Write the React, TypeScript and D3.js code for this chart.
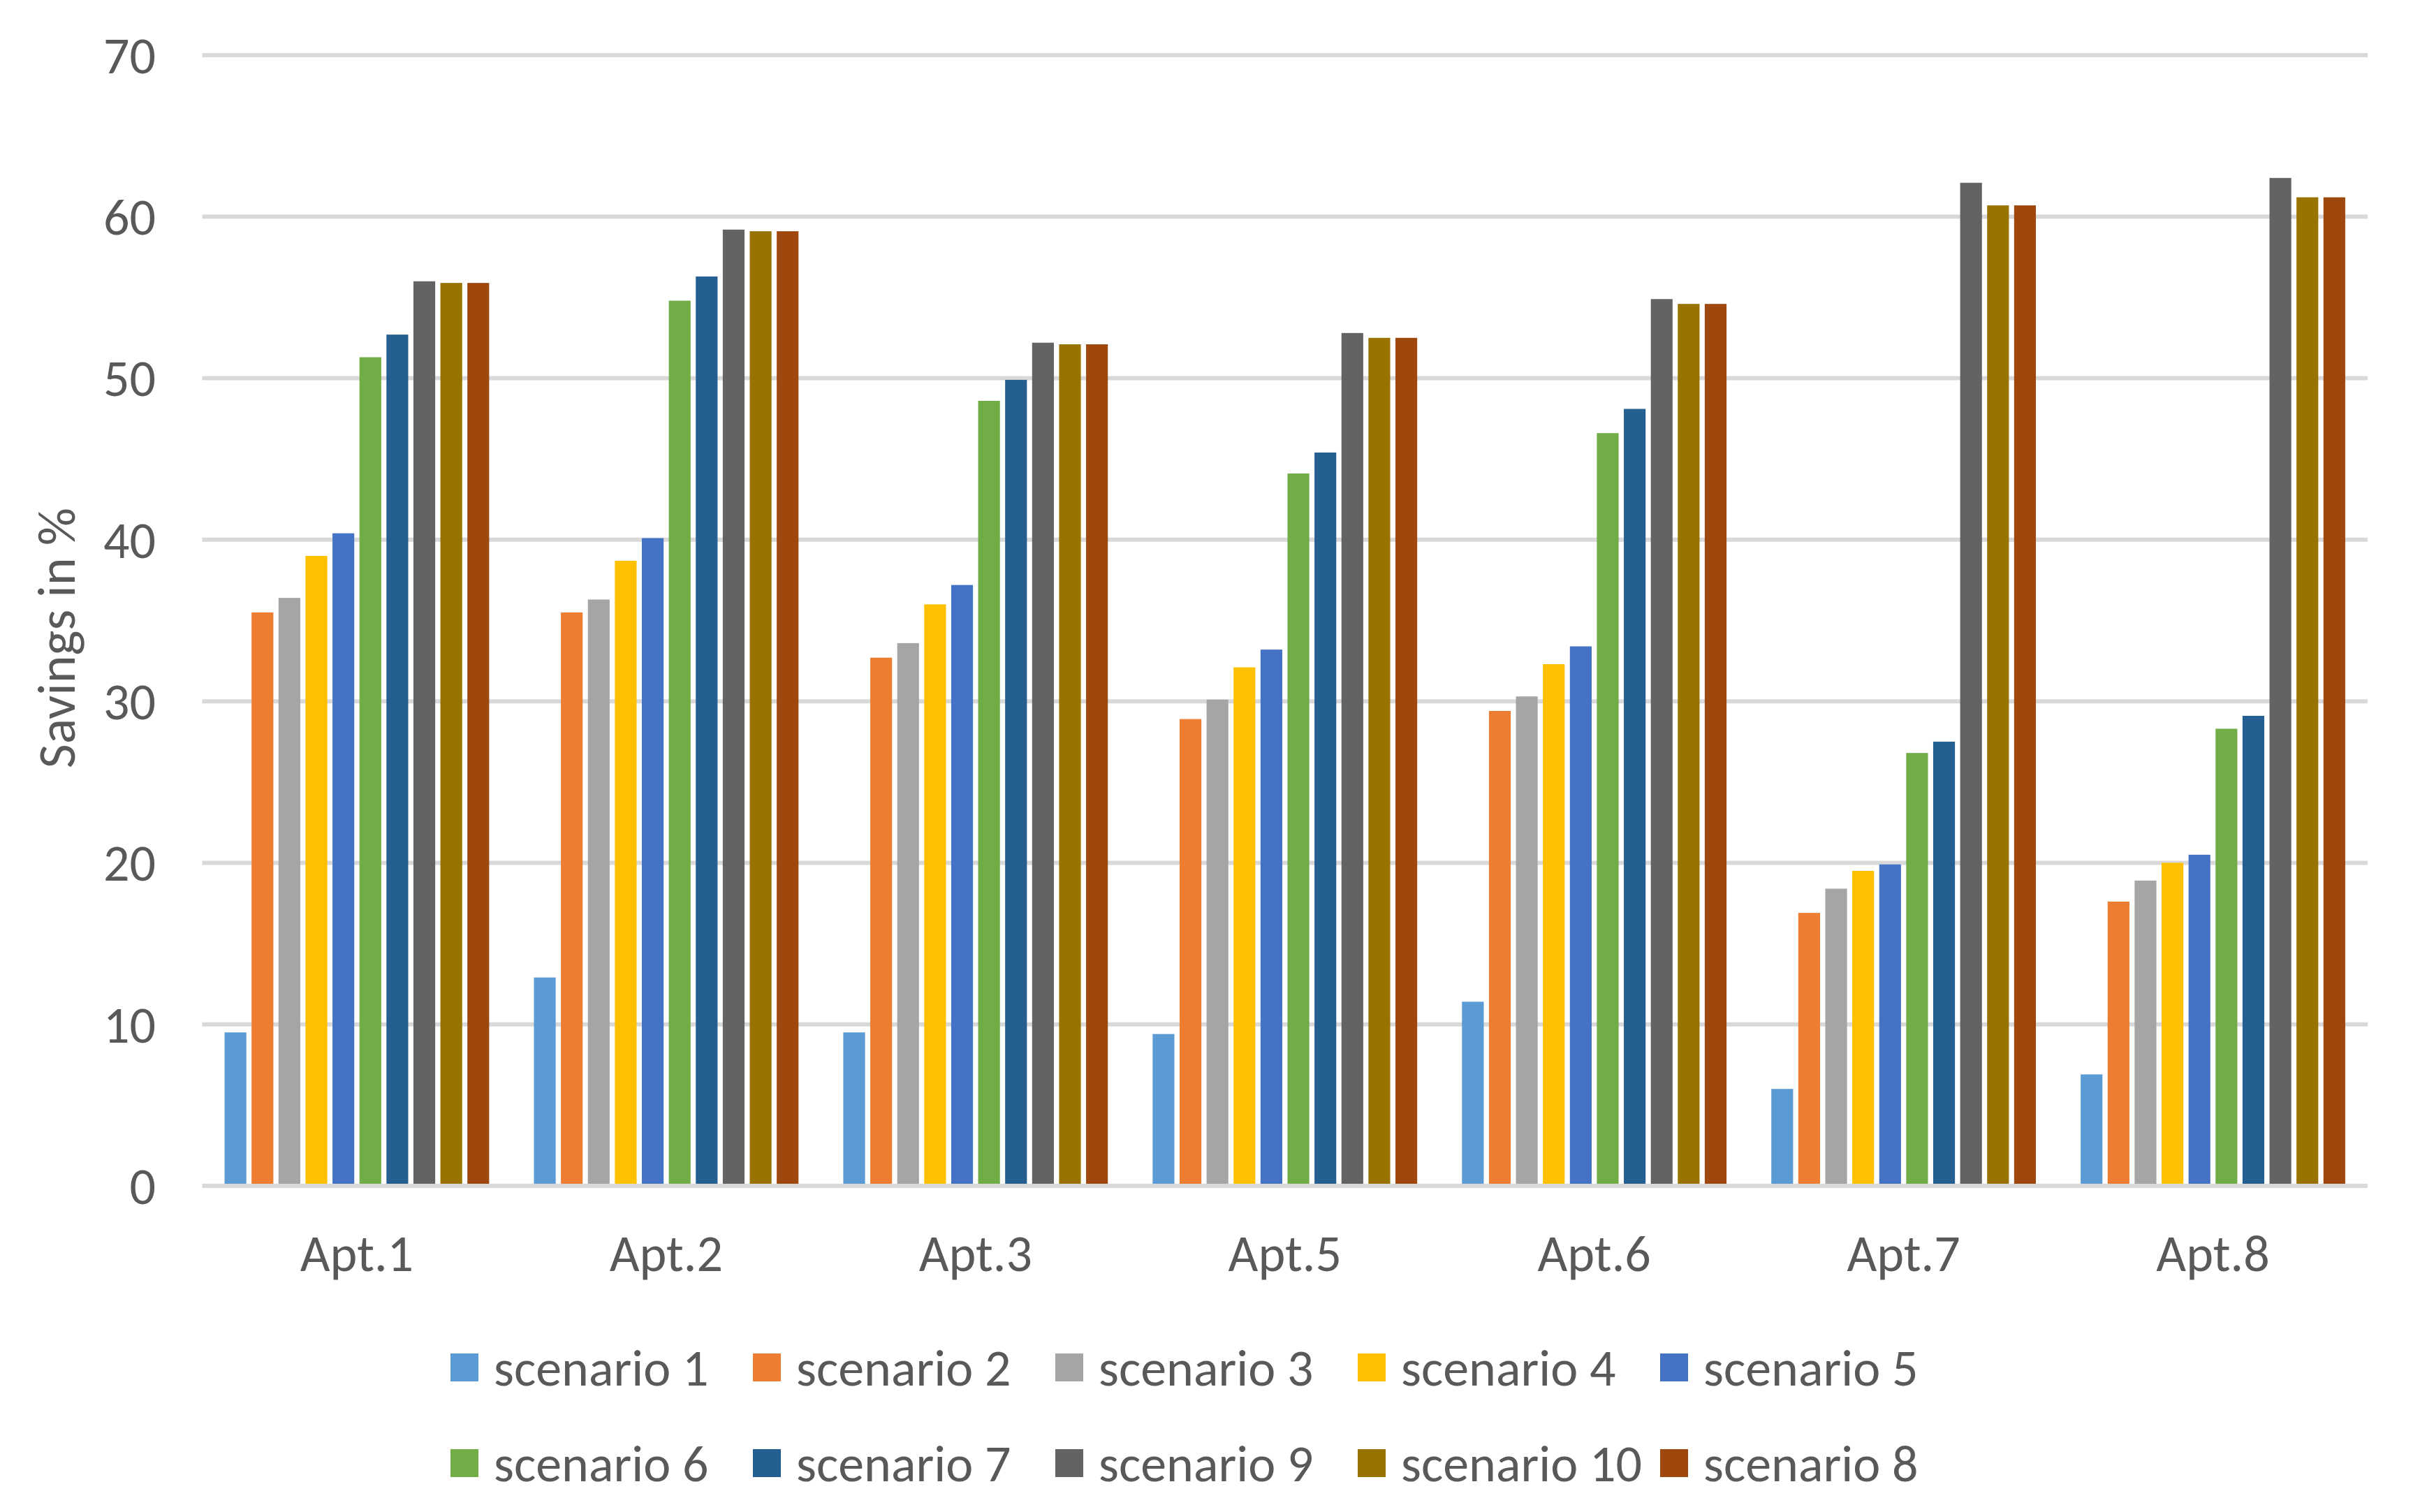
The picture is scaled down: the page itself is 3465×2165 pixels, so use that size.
import React from "react";
import * as d3 from "d3";

const categories = ["Apt.1", "Apt.2", "Apt.3", "Apt.5", "Apt.6", "Apt.7", "Apt.8"];
const seriesNames = ["scenario 1", "scenario 2", "scenario 3", "scenario 4", "scenario 5", "scenario 6", "scenario 7", "scenario 9", "scenario 10", "scenario 8"];
const seriesColors = ["#5B9BD5", "#ED7D31", "#A5A5A5", "#FFC000", "#4472C4", "#70AD47", "#255E91", "#636363", "#997300", "#9E480E"];
const scenario1 = [9.5, 12.9, 9.5, 9.4, 11.4, 6.0, 6.9];
const scenario2 = [35.5, 35.5, 32.7, 28.9, 29.4, 16.9, 17.6];
const scenario3 = [36.4, 36.3, 33.6, 30.1, 30.3, 18.4, 18.9];
const scenario4 = [39.0, 38.7, 36.0, 32.1, 32.3, 19.5, 20.0];
const scenario5 = [40.4, 40.1, 37.2, 33.2, 33.4, 19.9, 20.5];
const scenario6 = [51.3, 54.8, 48.6, 44.1, 46.6, 26.8, 28.3];
const scenario7 = [52.7, 56.3, 49.9, 45.4, 48.1, 27.5, 29.1];
const scenario9 = [56.0, 59.2, 52.2, 52.8, 54.9, 62.1, 62.4];
const scenario10 = [55.9, 59.1, 52.1, 52.5, 54.6, 60.7, 61.2];
const scenario8 = [55.9, 59.1, 52.1, 52.5, 54.6, 60.7, 61.2];
const seriesValues = [scenario1, scenario2, scenario3, scenario4, scenario5, scenario6, scenario7, scenario9, scenario10, scenario8];
const yTicks = [0, 10, 20, 30, 40, 50, 60, 70];
const yTitle = "Savings in %";

const W = 3465;
const H = 2165;
const FONT = "Carlito, Calibri, Lato, 'Open Sans', sans-serif";
const TEXT = "#595959";

export default function App() {
  const left = 289.5, right = 3390, top = 79, bottom = 1698;
  const x0 = d3.scaleBand<string>().domain(categories).range([left, right]).padding(0);
  const x1 = d3.scaleBand<string>().domain(seriesNames).range([0, x0.bandwidth()]).paddingInner(0.193).paddingOuter(0.83);
  const y = d3.scaleLinear().domain([0, 70]).range([bottom, top]);

  const legendX0 = 645, legendStep = 433, legendRows = [1958, 2095], sw = 40;

  return (
    <svg width={W} height={H} style={{ display: "block", position: "absolute", left: 0, top: 0, background: "#fff" }} fontFamily={FONT}>
      <rect x={0} y={0} width={W} height={H} fill="#fff" />
      {yTicks.map((t) => (
        <g key={t}>
          <line x1={left} x2={right} y1={y(t)} y2={y(t)} stroke="#D9D9D9" strokeWidth={6} />
          <text x={223} y={y(t)} dy="0.35em" textAnchor="end" fontSize={74} fill={TEXT}>{t}</text>
        </g>
      ))}
      {categories.map((c, ci) => (
        <g key={c}>
          {seriesNames.map((s, si) => {
            const v = seriesValues[si][ci];
            return (
              <rect key={s} x={(x0(c) as number) + (x1(s) as number)} y={y(v)} width={x1.bandwidth()} height={y(0) - y(v) - 3} fill={seriesColors[si]} />
            );
          })}
          <text x={(x0(c) as number) + x0.bandwidth() / 2} y={1794} dy="0.35em" textAnchor="middle" fontSize={74} fill={TEXT}>{c}</text>
        </g>
      ))}
      <text transform={`translate(80, ${(top + bottom) / 2 + 25}) rotate(-90)`} textAnchor="middle" dy="0.35em" fontSize={76} fill={TEXT}>{yTitle}</text>
      {seriesNames.map((s, i) => {
        const row = Math.floor(i / 5);
        const col = i % 5;
        const lx = legendX0 + col * legendStep;
        const ly = legendRows[row];
        return (
          <g key={s}>
            <rect x={lx} y={ly - sw / 2} width={sw} height={sw} fill={seriesColors[i]} />
            <text x={lx + 62} y={ly} dy="0.35em" fontSize={74} fill={TEXT}>{s}</text>
          </g>
        );
      })}
    </svg>
  );
}
